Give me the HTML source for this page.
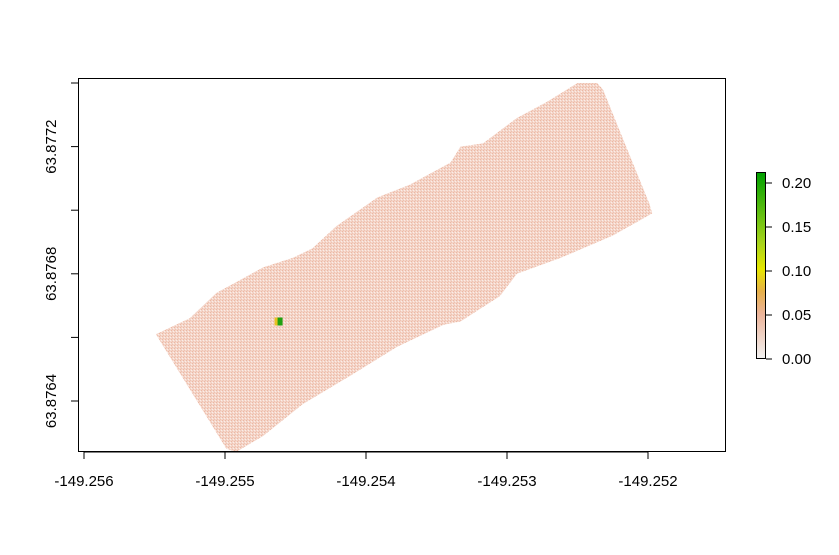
<!DOCTYPE html>
<html><head><meta charset="utf-8">
<style>
html,body{margin:0;padding:0;background:#fff;}
svg text{font-family:"Liberation Sans",Arial,sans-serif;font-size:15px;fill:#000;}
</style></head>
<body>
<svg id="chart" width="839" height="550" viewBox="0 0 839 550" xmlns="http://www.w3.org/2000/svg">
<defs>
<linearGradient id="cbar" x1="0" y1="1" x2="0" y2="0">
<stop offset="0" stop-color="#f2f2f2"/>
<stop offset="0.24" stop-color="#ecb49a"/>
<stop offset="0.36" stop-color="#e6b04a"/>
<stop offset="0.48" stop-color="#e6e600"/>
<stop offset="0.62" stop-color="#a8d41c"/>
<stop offset="1" stop-color="#00a000"/>
</linearGradient>
<pattern id="speck" width="3" height="3" patternUnits="userSpaceOnUse">
<rect width="3" height="3" fill="#f4d5c9"/>
<rect x="0" y="0" width="1" height="1" fill="#ecb8a3"/>
<rect x="2" y="1" width="1" height="1" fill="#fbeee8"/>
<rect x="1" y="2" width="1" height="1" fill="#efc2b0"/>
</pattern>
</defs>
<g id="plot"></g>
</svg>
<script>
const xTicks = [-149.256, -149.255, -149.254, -149.253, -149.252];
const xTickLabels = ["-149.256", "-149.255", "-149.254", "-149.253", "-149.252"];
const yTicks = [63.8764, 63.8766, 63.8768, 63.8770, 63.8772, 63.8774];
const yTickLabels = ["63.8764", "", "63.8768", "", "63.8772", ""];
const legendTicks = [0.00, 0.05, 0.10, 0.15, 0.20];
const legendTickLabels = ["0.00", "0.05", "0.10", "0.15", "0.20"];
const footprintLon = [-149.25549,-149.25525,-149.25506,-149.25473,-149.25452,-149.25438,-149.25421,-149.25392,-149.25369,-149.25340,-149.25333,-149.25317,-149.25293,-149.25272,-149.25250,-149.25236,-149.25232,-149.25199,-149.25197,-149.25225,-149.25262,-149.25293,-149.25305,-149.25333,-149.25345,-149.25378,-149.25411,-149.25445,-149.25473,-149.25492,-149.25499];
const footprintLat = [63.87661,63.87666,63.87674,63.87682,63.87685,63.87688,63.87695,63.87704,63.87708,63.87715,63.87720,63.87721,63.87729,63.87734,63.87740,63.87740,63.87738,63.87702,63.87699,63.87692,63.87685,63.87680,63.87673,63.87665,63.87664,63.87657,63.87648,63.87639,63.87629,63.87624,63.87625];
const hotspotLon = [-149.25462];
const hotspotLat = [63.87665];
const hotspotValue = [0.20];

const NS = "http://www.w3.org/2000/svg";
const X = v => 84 + (v + 149.256) * 141000;
const Y = v => 401 - (v - 63.8764) * 318000;
const L = v => 359 - v * 880;
const g = document.getElementById('plot');
function mk(tag, attrs, parent) {
  const e = document.createElementNS(NS, tag);
  for (const k in attrs) e.setAttribute(k, attrs[k]);
  (parent || g).appendChild(e);
  return e;
}
const pts = footprintLon.map((lo, i) => X(lo).toFixed(1) + "," + Y(footprintLat[i]).toFixed(1)).join(" ");
const poly = mk('polygon', {points: pts, fill: 'url(#speck)'});


hotspotLon.forEach((lo, i) => {
  const a = mk('rect', {x: X(lo) - 4, y: Y(hotspotLat[i]) - 4, width: 4, height: 8, fill: '#e6c020'});
  
  
  const r = mk('rect', {x: X(lo) - 1, y: Y(hotspotLat[i]) - 4, width: 5, height: 8, fill: hotspotValue[i] > 0.15 ? '#20a010' : '#a0d020'});
  
  
});
const fr = mk('rect', {x: 78.5, y: 78.5, width: 647, height: 373, fill: 'none', stroke: '#000', 'stroke-width': 1});


xTicks.forEach((t, i) => {
  const l = mk('line', {x1: X(t), x2: X(t), y1: 452, y2: 459, stroke: '#000'});
  
  
  const tx = mk('text', {x: X(t), y: 486, 'text-anchor': 'middle'});
  tx.textContent = xTickLabels[i];
  
  
});
const xl = mk('line', {x1: X(xTicks[0]), x2: X(xTicks[xTicks.length-1]), y1: 452, y2: 452, stroke: '#000'});


yTicks.forEach((t, i) => {
  const l = mk('line', {x1: 71, x2: 78, y1: Y(t), y2: Y(t), stroke: '#000'});
  
  
  if (yTickLabels[i]) {
    const tx = mk('text', {x: 0, y: 0, 'text-anchor': 'middle', transform: `translate(56,${Y(t)}) rotate(-90)`});
    tx.textContent = yTickLabels[i];
    
    
  }
});
const cb = mk('rect', {x: 756.5, y: 172.5, width: 9, height: 186, fill: 'url(#cbar)', stroke: '#000', 'stroke-width': 1});


legendTicks.forEach((t, i) => {
  const l = mk('line', {x1: 766, x2: 772, y1: L(t), y2: L(t), stroke: '#000'});
  
  
  const tx = mk('text', {x: 782, y: L(t) + 5});
  tx.textContent = legendTickLabels[i];
  
  
});
</script>
</body></html>
